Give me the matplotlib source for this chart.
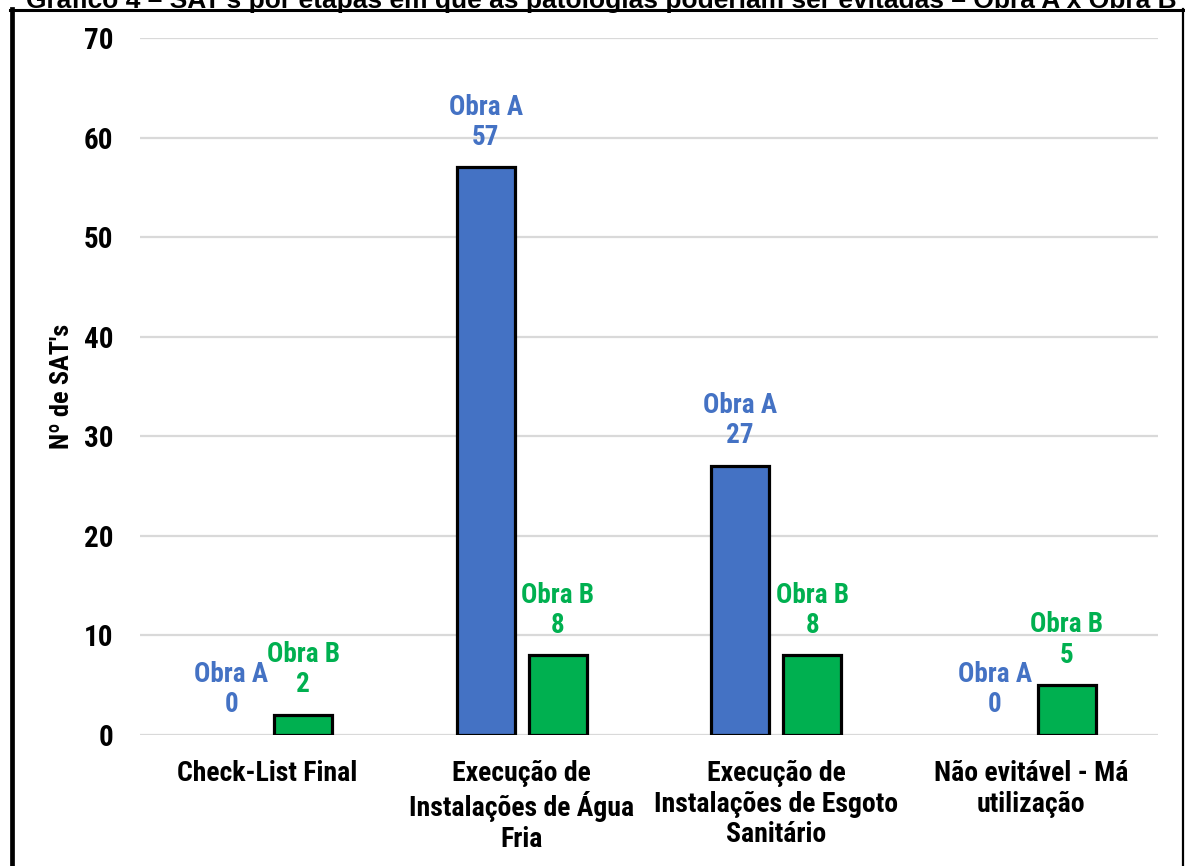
import matplotlib
matplotlib.use("Agg")
import matplotlib.pyplot as plt
from matplotlib.lines import Line2D
import numpy as np

# Data
categories = [
    "Check-List Final",
    "Execução de\nInstalações de Água\nFria",
    "Execução de\nInstalações de Esgoto\nSanitário",
    "Não evitável - Má\nutilização",
]
obra_a = [0, 57, 27, 0]
obra_b = [2, 8, 8, 5]
series_names = ["Obra A", "Obra B"]
yticks = [0, 10, 20, 30, 40, 50, 60, 70]
title = "Gráfico 4 – SAT's por etapas em que as patologias poderiam ser evitadas – Obra A x Obra B"
ylabel = "Nº de SAT's"

color_a = "#4472C4"
color_b = "#00B050"

plt.rcParams["font.family"] = ["Liberation Sans Narrow", "Roboto Condensed",
                               "DejaVu Sans Condensed", "DejaVu Sans"]
plt.rcParams["font.weight"] = "bold"

W, H, DPI = 1185, 866, 100
fig = plt.figure(figsize=(W / DPI, H / DPI), dpi=DPI)
fig.patch.set_facecolor("white")

ax = fig.add_axes([140 / W, 1 - 735 / H, (1158 - 140) / W, (735 - 38) / H])

x = np.arange(len(categories))
width = 0.228
offset = 0.1415

bars_a = ax.bar(x - offset, obra_a, width, color=color_a, edgecolor="black",
                linewidth=2.3, zorder=3)
bars_b = ax.bar(x + offset, obra_b, width, color=color_b, edgecolor="black",
                linewidth=2.3, zorder=3)

# Zero-height bars get no outline
for bars, vals in ((bars_a, obra_a), (bars_b, obra_b)):
    for b, v in zip(bars, vals):
        if v == 0:
            b.set_linewidth(0)

for xs, vals, name, col in ((x - offset, obra_a, series_names[0], color_a),
                            (x + offset, obra_b, series_names[1], color_b)):
    for xi, v in zip(xs, vals):
        ax.annotate(f"{name}\n{v}", xy=(xi, v), xytext=(0, 12),
                    textcoords="offset points", ha="center", va="bottom",
                    color=col, fontsize=19.5, fontweight="bold",
                    linespacing=1.15, zorder=4)

ax.set_xlim(-0.5, len(categories) - 0.5)
ax.set_ylim(0, 70)
ax.set_yticks(yticks)
ax.set_yticklabels([str(t) for t in yticks], fontsize=21, fontweight="bold")
ax.set_xticks(x)
ax.set_xticklabels(categories, fontsize=20, fontweight="bold", linespacing=1.17)
ax.tick_params(axis="y", length=0, pad=19)
ax.tick_params(axis="x", length=0, pad=18)
ax.yaxis.grid(True, color="#D9D9D9", linewidth=1.6, zorder=0)
ax.set_axisbelow(True)
for s in ax.spines.values():
    s.set_visible(False)

ax.set_ylabel(ylabel, fontsize=19, fontweight="bold")
ax.yaxis.set_label_coords(-(140 - 74) / (1158 - 140), 0.5)

# Frame around the chart
def px(xp, yp):
    return xp / W, 1 - yp / H

fig.add_artist(Line2D([px(12, 0)[0], px(12, 0)[0]], [px(0, 9)[1], 0],
                      transform=fig.transFigure, color="black", linewidth=3.4))
fig.add_artist(Line2D([px(10, 0)[0], px(1184, 0)[0]], [px(0, 10)[1], px(0, 10)[1]],
                      transform=fig.transFigure, color="black", linewidth=2.2))
fig.add_artist(Line2D([px(1183, 0)[0], px(1183, 0)[0]], [px(0, 9)[1], 0],
                      transform=fig.transFigure, color="black", linewidth=1.6))

# Caption above the frame
fig.text(601 / W, 1 - 8 / H, title, ha="center", va="baseline",
         fontsize=19, fontweight="bold",
         family=["Liberation Sans", "DejaVu Sans"])

fig.savefig("out.png", dpi=DPI, facecolor="white")
